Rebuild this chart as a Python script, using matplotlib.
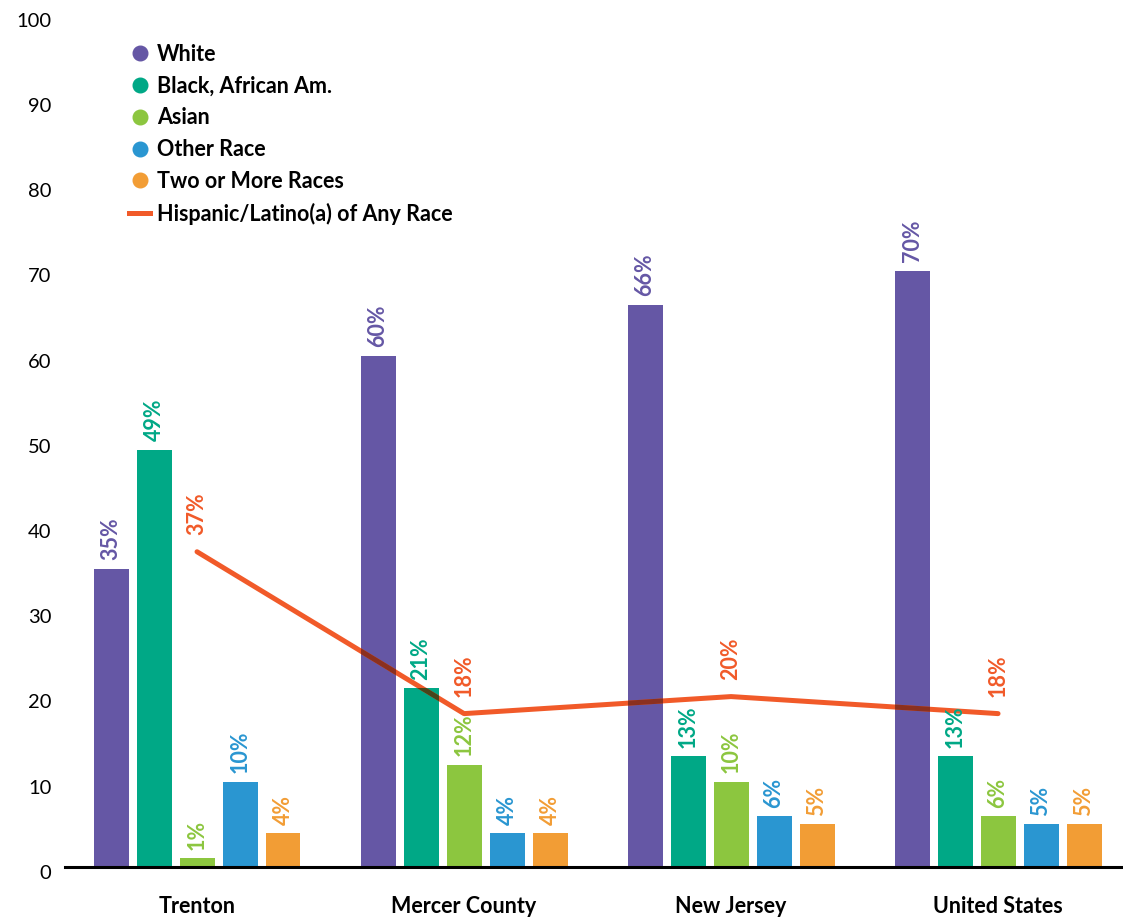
import numpy as np
import matplotlib.pyplot as plt
import matplotlib.transforms as mtransforms
from matplotlib.lines import Line2D
from matplotlib import colors as mcolors

plt.rcParams['font.family'] = ['Lato', 'DejaVu Sans']

# 数据
places = ['Trenton', 'Mercer County', 'New Jersey', 'United States']
race_names = ['White', 'Black, African Am.', 'Asian', 'Other Race', 'Two or More Races']
white = [35, 60, 66, 70]
black = [49, 21, 13, 13]
asian = [1, 12, 10, 6]
other = [10, 4, 6, 5]
two_more = [4, 4, 5, 5]
hispanic = [37, 18, 20, 18]
hispanic_name = 'Hispanic/Latino(a) of Any Race'

bar_colors = ['#6557A5', '#00A886', '#8CC63F', '#2A96D1', '#F29D35']
line_color = '#F15A29'

series = [white, black, asian, other, two_more]

fig = plt.figure(figsize=(11.23, 9.18), dpi=100)
ax = fig.add_axes([0.058, 0.0556, 0.942, 0.928])

x = np.arange(len(places))
step = 0.161
width = 0.131

bar_groups = []
for i, (vals, c) in enumerate(zip(series, bar_colors)):
    xs = x + (i - 2) * step
    bars = ax.bar(xs, vals, width=width, color=c, zorder=2)
    bar_groups.append(bars)
    for xi, v in zip(xs, vals):
        ax.annotate(f'{v}%', (xi, v), xytext=(0, 6), textcoords='offset points',
                    rotation=90, ha='center', va='bottom', color=c,
                    fontsize=15.5, fontweight='bold', zorder=5)

# 西语裔折线, 画在柱子上方
ax.plot(x, hispanic, color=line_color, lw=3.6, solid_capstyle='round',
        solid_joinstyle='round', zorder=3)

# 折线压住柱子的部分用正片叠底的颜色
lc = np.array(mcolors.to_rgb(line_color))
for bars, c in zip(bar_groups, bar_colors):
    mult = lc * np.array(mcolors.to_rgb(c))
    dark = 0.7 * mult + 0.3 * lc
    for b in bars:
        ln, = ax.plot(x, hispanic, color=dark, lw=3.6, solid_capstyle='butt',
                      solid_joinstyle='round', zorder=4)
        ln.set_clip_path(b)

for xi, v in zip(x, hispanic):
    ax.annotate(f'{v}%', (xi, v), xytext=(0, 12), textcoords='offset points',
                rotation=90, ha='center', va='bottom', color=line_color,
                fontsize=15.5, fontweight='bold', zorder=5)

ax.set_xlim(-0.494, 3.468)
ax.set_ylim(0, 100)
ax.set_yticks(range(0, 101, 10))
ax.set_xticks(x)
ax.set_xticklabels(places, fontsize=15.5, fontweight='bold')
ax.tick_params(axis='x', length=0, pad=21)
ax.tick_params(axis='y', length=0, pad=10, labelsize=14.5)
# y 轴刻度文字稍微往下挪一点
shift = mtransforms.ScaledTranslation(0, -3.5 / 72, fig.dpi_scale_trans)
for lab in ax.get_yticklabels():
    lab.set_transform(lab.get_transform() + shift)
for s in ['top', 'right', 'left']:
    ax.spines[s].set_visible(False)
ax.spines['bottom'].set_linewidth(2.2)
ax.spines['bottom'].set_zorder(6)

# 图例
handles = [Line2D([], [], marker='o', ls='', color=c, markersize=10.5) for c in bar_colors]
handles.append(Line2D([], [], color=line_color, lw=3.6))
leg = ax.legend(handles, race_names + [hispanic_name], loc='upper left',
                bbox_to_anchor=(0.042, 0.989), frameon=False,
                prop={'size': 15.5, 'weight': 'bold'}, handlelength=1.0,
                handletextpad=0.3, labelspacing=0.5)

fig.savefig('out.png', dpi=100)
